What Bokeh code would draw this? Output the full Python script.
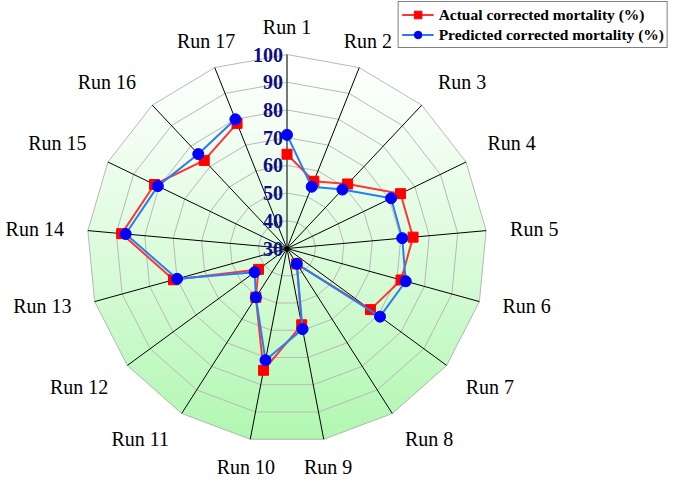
import numpy as np
from bokeh.plotting import figure
from bokeh.models import Range1d, ColumnDataSource, Legend, LegendItem
from bokeh.core.properties import value
from bokeh.embed import file_html
from bokeh.resources import INLINE

# ---------------- data ----------------
runs = ["Run 1", "Run 2", "Run 3", "Run 4", "Run 5", "Run 6", "Run 7", "Run 8", "Run 9",
        "Run 10", "Run 11", "Run 12", "Run 13", "Run 14", "Run 15", "Run 16", "Run 17"]
actual = [64.0, 56.0, 61.5, 74.4, 74.3, 71.5, 66.6, 36.5, 58.0,
          74.7, 50.7, 42.5, 71.3, 88.1, 81.8, 73.0, 78.4]
predicted = [71.0, 53.9, 58.8, 70.7, 70.5, 73.2, 70.8, 36.5, 59.6,
             71.0, 50.7, 44.2, 70.0, 86.7, 80.5, 76.1, 80.0]
ticks = [30, 40, 50, 60, 70, 80, 90, 100]
series_names = ["Actual corrected mortality (%)", "Predicted corrected mortality (%)"]

# ---------------- layout ----------------
W, H = 669, 480
CX, CY = 286.5, 248.0     # centre in canvas pixels (from top-left)
RX, RY = 200.0, 194.0     # pixels per unit radius (x, y)
LX, LY = 224.0, 211.0     # label anchor radius in pixels (x, y)
rmin, rmax = ticks[0], ticks[-1]

n = len(runs)
theta = np.arange(n) * 2 * np.pi / n
sx, sy = np.sin(theta), np.cos(theta)


def rad(v):
    return (np.asarray(v, dtype=float) - rmin) / (rmax - rmin)


p = figure(width=W, height=H, output_backend="svg", toolbar_location=None,
           x_range=Range1d(-CX / RX, (W - CX) / RX), y_range=Range1d(-(H - CY) / RY, CY / RY),
           x_axis_type=None, y_axis_type=None, min_border=0, title=None)
p.grid.visible = False
p.outline_line_color = None
p.background_fill_color = "white"
p.border_fill_color = "white"


# ---------------- gradient background (white top -> light green bottom) ----------------
def clip_below(xs, ys, c):
    out = []
    m = len(xs)
    for i in range(m):
        x1, y1 = xs[i], ys[i]
        x2, y2 = xs[(i + 1) % m], ys[(i + 1) % m]
        in1, in2 = y1 <= c, y2 <= c
        if in1:
            out.append((x1, y1))
        if in1 != in2:
            t = (c - y1) / (y2 - y1)
            out.append((x1 + t * (x2 - x1), c))
    return out


top_c = np.array([255, 255, 255])
bot_c = np.array([176, 247, 176])
ytop, ybot = sy.max(), sy.min()
N = 90
gx, gy, gc = [], [], []
for k in range(N):
    c = ytop - k * (ytop - ybot) / N
    poly = clip_below(list(sx), list(sy), c + (1e-9 if k == 0 else 0))
    if len(poly) < 3:
        continue
    t = ((k + 0.5) / N) ** 1.2
    col = (top_c * (1 - t) + bot_c * t).round().astype(int)
    gx.append([q[0] for q in poly])
    gy.append([q[1] for q in poly])
    gc.append("#%02x%02x%02x" % tuple(col))
p.patches(xs="xs", ys="ys", fill_color="c", line_color=None, line_width=0,
          source=ColumnDataSource(dict(xs=gx, ys=gy, c=gc)))

# ---------------- rings ----------------
rx, ry = [], []
for v in ticks[1:]:
    r = rad(v)
    rx.append(list(r * sx) + [r * sx[0]])
    ry.append(list(r * sy) + [r * sy[0]])
p.multi_line(rx, ry, line_color="#b8b8b8", line_width=1)

# ---------------- spokes ----------------
p.multi_line([[0, sx[i]] for i in range(1, n)], [[0, sy[i]] for i in range(1, n)],
             line_color="black", line_width=1)
p.line([0, sx[0]], [0, sy[0]], line_color="#555555", line_width=1.6)
p.scatter([0], [0], size=4, color="black")

# ---------------- tick labels ----------------
p.text(x=[0] * len(ticks), y=list(rad(ticks)), text=[str(t) for t in ticks],
       text_align="right", text_baseline="middle", x_offset=-4,
       text_font=value("Liberation Serif"), text_font_style="bold",
       text_font_size="20px", text_color="#0e0e80")

# ---------------- data ----------------
ra = rad(actual)
rp = rad(predicted)
l1 = p.line(ra * sx, ra * sy, line_color="#ff3535", line_width=2)
m1 = p.scatter(ra * sx, ra * sy, marker="square", size=10, fill_color="#ff0000", line_color="#ff0000")
l2 = p.line(rp * sx, rp * sy, line_color="#2a7df0", line_width=2)
m2 = p.scatter(rp * sx, rp * sy, marker="circle", size=11, fill_color="#0000ff", line_color="#0000ff")

# ---------------- category labels ----------------
groups = {}
for i, name in enumerate(runs):
    align = "center" if abs(sx[i]) < 0.4 else ("left" if sx[i] > 0 else "right")
    base = "bottom" if sy[i] > 0.35 else ("top" if sy[i] < -0.35 else "middle")
    g = groups.setdefault((align, base), dict(x=[], y=[], t=[]))
    g["x"].append(LX * sx[i] / RX)
    g["y"].append(LY * sy[i] / RY)
    g["t"].append(name)
for (align, base), g in groups.items():
    p.text(x=g["x"], y=g["y"], text=g["t"], text_align=align, text_baseline=base,
           text_font=value("Liberation Serif"), text_font_size="20px", text_color="black")

# ---------------- legend ----------------
legend = Legend(items=[LegendItem(label=series_names[0], renderers=[l1, m1]),
                       LegendItem(label=series_names[1], renderers=[l2, m2])],
                location="top_right", margin=1, padding=3, spacing=1,
                glyph_width=32, glyph_height=19, label_height=19, label_standoff=5,
                label_text_font="Liberation Serif", label_text_font_style="bold",
                label_text_font_size="15.5px", label_text_color="black",
                border_line_color="black", border_line_width=1,
                background_fill_color="white", background_fill_alpha=1.0)
p.add_layout(legend)

open("out.html", "w").write(file_html(p, INLINE))
